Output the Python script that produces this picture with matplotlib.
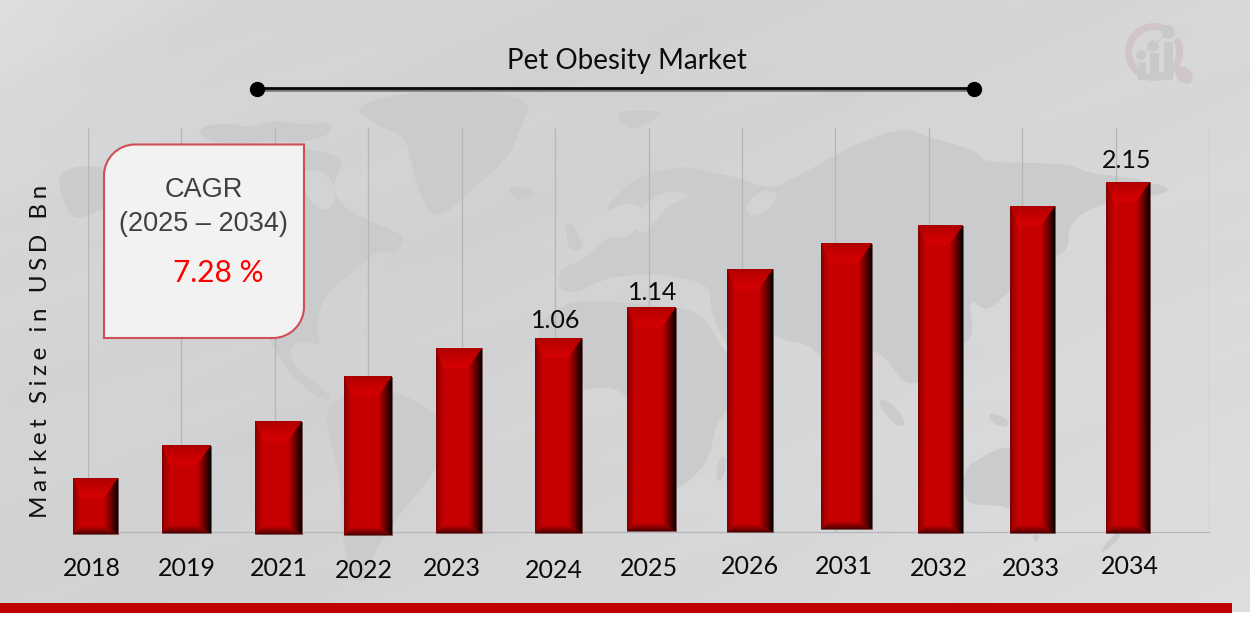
import numpy as np
import matplotlib
matplotlib.use("Agg")
import matplotlib.pyplot as plt
from matplotlib.path import Path
from matplotlib.patches import PathPatch, Polygon, Circle, Ellipse, Wedge, Rectangle

# ---------- data ----------
years = ["2018", "2019", "2021", "2022", "2023", "2024", "2025", "2026", "2031", "2032", "2033", "2034"]
# bar tops / feet, in the chart's value scale
bar_tops = [0.33, 0.53, 0.675, 0.955, 1.13, 1.19, 1.376, 1.615, 1.77, 1.88, 2.00, 2.15]
bar_feet = [-0.012, -0.006, -0.015, -0.018, -0.006, -0.006, 0.006, 0.0, 0.018, -0.006, -0.006, -0.006]
shown_values = {"2024": "1.06", "2025": "1.14", "2034": "2.15"}
title = "Pet Obesity Market"
y_title = "Market Size in USD Bn"

# ---------- layout (pixels of the 1250x624 canvas) ----------
W, H = 1250, 624
bar_left = [73, 162, 255, 344, 436, 535, 627, 727, 821, 918, 1010, 1106]
bar_right = [118, 211, 302, 392, 482, 582, 676, 773, 872, 963, 1055, 1150]
year_cx = [92, 187, 279, 364, 452, 554, 649, 750, 844, 939, 1031, 1130]
year_cy = [568, 568, 569, 570, 569, 571, 569, 567, 567, 568, 569, 567]
value_pos = {"2024": (556, 320), "2025": (653, 293), "2034": (1127, 161)}
PLOT_L, PLOT_R, PLOT_T, PLOT_B = 88, 1209, 128, 532
PX_PER_UNIT = 350 / 2.15

plt.rcParams["font.family"] = ["Lato", "DejaVu Sans"]
fig = plt.figure(figsize=(W / 100, H / 100), dpi=100)
fig.patch.set_facecolor("white")

# ---------- background ----------
bg = fig.add_axes([0, 0, 1, 1], zorder=0)
bg.set_xlim(0, W); bg.set_ylim(H, 0); bg.axis("off")
yy, xx = np.mgrid[0:612, 0:W]
t = (xx + 1.0 * yy) / (W + 612)
grad = np.interp(t, [0, 0.12, 0.38, 0.7, 1], [221, 213, 209, 215, 221])
diag = xx * 0.36 + yy
grad = grad + 0.7 * np.sin(diag / 23.0) + 0.5 * np.sin(diag / 9.7 + 1.0)
bgimg = np.clip(np.dstack([grad, grad + 0.7, grad + 1.7]), 0, 255).astype(np.uint8)
bg.imshow(bgimg, extent=(0, W, 612, 0), aspect="auto", interpolation="bilinear", zorder=0)
bg.set_xlim(0, W); bg.set_ylim(H, 0)

def soften(poly, rounds=2):
    """Round a rough outline's corners."""
    p = np.array(poly, dtype=float)
    for _ in range(rounds):
        q = np.roll(p, -1, axis=0)
        p = np.column_stack([0.75 * p + 0.25 * q, 0.25 * p + 0.75 * q]).reshape(-1, 2)
    return p

land = [
    # Alaska / Canada / USA / Mexico
    [(57,172),(85,165),(105,168),(140,172),(200,152),(260,146),(320,150),(345,160),(332,185),(340,205),(370,222),
     (408,236),(395,255),(378,250),(362,264),(342,280),(322,300),(316,330),(322,346),(303,340),(287,350),(300,372),
     (312,380),(332,396),(325,402),(292,378),(272,346),(256,312),(240,290),(192,250),(140,215),(106,206),(75,222),(62,200)],
    # Arctic islands
    [(197,128),(225,122),(250,128),(275,120),(300,125),(333,122),(330,135),(300,143),(270,140),(235,145),(205,140)],
    # Greenland
    [(352,107),(400,93),(480,90),(532,100),(522,125),(512,150),(500,165),(472,190),(445,215),(430,214),(420,196),(412,166),(405,136),(376,125)],
    # Iceland
    [(507,188),(522,186),(537,192),(527,199),(515,200)],
    # Britain
    [(565,225),(573,222),(578,235),(585,248),(570,251),(567,240)],
    [(616,112),(640,110),(665,112),(650,122),(632,131),(620,122)],
    # South America
    [(327,407),(350,392),(393,390),(423,405),(450,425),(445,450),(427,483),(400,513),(373,553),(367,583),(353,580),(343,547),(340,473),(327,433)],
    # Eurasia
    [(600,215),(630,180),(680,165),(710,172),(740,178),(770,190),(800,175),(857,143),(903,127),(927,137),(977,150),(983,163),
     (1067,163),(1087,173),(1127,177),(1173,188),(1160,195),(1093,205),(1067,227),(1070,250),(1037,267),(1000,300),(985,312),
     (968,296),(975,340),(950,345),(912,395),(880,350),(860,350),(845,395),(815,345),(780,340),(770,330),(745,370),(720,335),
     (710,305),(710,285),(670,275),(620,275),(590,285),(578,293),(557,290),(560,268),(580,262),(610,235),(625,240),(650,215),(630,200)],
    # Africa
    [(535,330),(560,305),(590,300),(650,305),(700,310),(720,345),(745,375),(735,400),(715,425),(710,460),(680,490),(650,490),
     (635,440),(630,400),(610,385),(570,392),(540,370)],
    # Madagascar
    [(720,456),(727,458),(724,476),(718,483),(716,470)],
    # Indonesia
    [(877,397),(895,405),(907,425),(898,427),(885,415)],
    [(988,413),(1000,415),(1010,422),(1005,428),(992,423)],
    [(925,375),(945,368),(965,385),(940,400)],
    # Australia
    [(963,470),(985,455),(1003,447),(1025,447),(1040,460),(1057,490),(1045,512),(1020,513),(1000,505),(975,505),(965,500)],
    [(1031,535),(1040,535),(1037,543)],
    [(1118,530),(1122,535),(1108,550),(1098,553)],
]
for poly in land:
    bg.add_patch(Polygon(soften(poly), closed=True, fc="#cacbcd", ec="none", zorder=1))
# seas cut out of the land
for sea in [
    [(296,172),(322,168),(338,190),(330,212),(312,205),(305,190)],
    [(640,208),(665,190),(695,195),(668,205),(652,225),(645,235),(632,225)],
    [(620,280),(660,272),(705,285),(700,298),(650,296),(625,292)],
    [(745,205),(760,190),(780,192),(770,210),(750,218)],
]:
    bg.add_patch(Polygon(soften(sea), closed=True, fc="#d2d3d5", ec="none", zorder=2))

# logo
logo_grey, logo_pink = "#c8c9cb", "#d0c6c8"
bg.add_patch(Wedge((1154, 52), 29, -30, 300, width=7, fc=logo_pink, ec="none", zorder=3))
for x0, top, wd in [(1142, 62, 8), (1154, 53, 9), (1168, 42, 9)]:
    bg.add_patch(Rectangle((x0 - wd / 2, top), wd, 80 - top, fc=logo_grey, ec="none", zorder=4))
for cx, cy, r in [(1141, 55, 5), (1153, 46, 5.5), (1168, 32, 7)]:
    bg.add_patch(Circle((cx, cy), r, fc=logo_grey, ec="none", zorder=4))
bg.plot([1141, 1153, 1168], [55, 46, 32], color=logo_grey, lw=0.8, zorder=4)
bg.add_patch(Ellipse((1184, 75), 20, 14, angle=45, fc=logo_pink, ec="none", zorder=3))

# bottom band
bg.add_patch(Rectangle((0, 603), 1232, 10, fc="#c00000", ec="none", zorder=5))

# ---------- chart ----------
ax = fig.add_axes([PLOT_L / W, 1 - PLOT_B / H, (PLOT_R - PLOT_L) / W, (PLOT_B - PLOT_T) / H], zorder=1)
ax.patch.set_alpha(0)
ax.set_xlim(PLOT_L, PLOT_R)
ax.set_ylim(0, (PLOT_B - PLOT_T) / PX_PER_UNIT)
ax.set_xticks(np.linspace(PLOT_L, PLOT_R, 13))
ax.set_yticks([])
ax.tick_params(length=0, labelbottom=False)
ax.grid(axis="x", color="#b6b6b8", lw=0.9, zorder=1)
for s in ["top", "left", "right"]:
    ax.spines[s].set_visible(False)
ax.spines["bottom"].set_color("#b6b6b8")
ax.spines["bottom"].set_linewidth(0.9)

def bevel(w, h):
    """RGB picture of a bevelled bar face, w x h pixels."""
    L, R, T, B = 8.0, 14.0, 20.0, 8.0
    y, x = np.mgrid[0:h, 0:w]
    x = x + 0.5; y = y + 0.5
    d = np.stack([x / L, (w - x) / R, y / T, (h - y) / B])
    side = d.argmin(axis=0)
    f = np.clip(d.min(axis=0), 0, 1)
    mid = np.array([198, 0, 0.0])
    edge = np.array([[125, 0, 0], [0, 0, 0], [165, 0, 0], [70, 0, 0.0]])
    inner = np.array([[198, 0, 0], [198, 0, 0], [214, 0, 0], [198, 0, 0.0]])
    power = np.array([0.8, 0.85, 0.55, 0.85])[side]
    img = edge[side] + (inner[side] - edge[side]) * (f ** power)[..., None]
    img[d.min(axis=0) >= 1] = mid
    return img.astype(np.uint8)

heights = np.array(bar_tops) - np.array(bar_feet)
centers = (np.array(bar_left) + np.array(bar_right)) / 2
widths = np.array(bar_right) - np.array(bar_left)
bars = ax.bar(centers, heights, widths, bottom=bar_feet, color="#c00000",
              edgecolor="#6d5557", linewidth=0.6, zorder=3, clip_on=False)
for rect in bars:
    x0, b, w, h = rect.get_x(), rect.get_y(), rect.get_width(), rect.get_height()
    face = bevel(int(round(w)), max(int(round(h * PX_PER_UNIT)), 2))
    ax.imshow(face, extent=(x0, x0 + w, b, b + h), aspect="auto", origin="upper",
              zorder=4, interpolation="bilinear", clip_on=False)
ax.set_xlim(PLOT_L, PLOT_R)
ax.set_ylim(0, (PLOT_B - PLOT_T) / PX_PER_UNIT)

# ---------- overlay ----------
ov = fig.add_axes([0, 0, 1, 1], zorder=2)
ov.set_xlim(0, W); ov.set_ylim(H, 0); ov.axis("off"); ov.patch.set_alpha(0)

for yr, cx, cy in zip(years, year_cx, year_cy):
    ov.text(cx, cy, yr, ha="center", va="center", fontsize=18, color="#0a0a0a")
for yr, txt in shown_values.items():
    px, py = value_pos[yr]
    ov.text(px, py, txt, ha="center", va="center", fontsize=18, color="#0a0a0a")

ov.text(626.5, 61, title, ha="center", va="center", fontsize=20, color="#0d0d0d")
ov.plot([257, 974], [89.5, 89.5], color="#777777", lw=2.6, solid_capstyle="butt", zorder=2)
ov.plot([257, 974], [88.3, 88.3], color="#0a0a0a", lw=2.0, solid_capstyle="butt", zorder=3)
ov.plot([257, 974], [88.5, 88.5], "o", color="black", ms=10, zorder=4)

ov.text(41, 351, "\u2009\u200a".join(y_title), rotation=90, ha="center", va="center",
        fontsize=17.5, color="#111111", family=["Lato", "DejaVu Sans"])

# callout box
x0, x1, y0, y1, r = 104, 304, 144.5, 338, 31
k = 0.45 * r
verts = [(x0 + r, y0), (x1, y0), (x1, y1 - r), (x1, y1 - r + (r - k)), (x1 - r + (r - k), y1), (x1 - r, y1),
         (x0, y1), (x0, y0 + r), (x0, y0 + r - (r - k)), (x0 + r - (r - k), y0), (x0 + r, y0)]
codes = [Path.MOVETO, Path.LINETO, Path.LINETO, Path.CURVE4, Path.CURVE4, Path.CURVE4,
         Path.LINETO, Path.LINETO, Path.CURVE4, Path.CURVE4, Path.CURVE4]
ov.add_patch(PathPatch(Path(verts, codes), fc="#f2f2f2", ec="#cf4f55", lw=1.5, zorder=5))
ov.text(203.5, 190, "CAGR", ha="center", va="center", fontsize=19.5, color="#404040",
        family="Liberation Sans", zorder=6)
ov.text(203.5, 224, "(2025 \u2013 2034)", ha="center", va="center", fontsize=19.5, color="#404040",
        family="Liberation Sans", zorder=6)
ov.text(218.5, 273, "7.28 %", ha="center", va="center", fontsize=21.5, color="#ff0000", zorder=6)

fig.savefig("out.png", dpi=100, facecolor="white")
